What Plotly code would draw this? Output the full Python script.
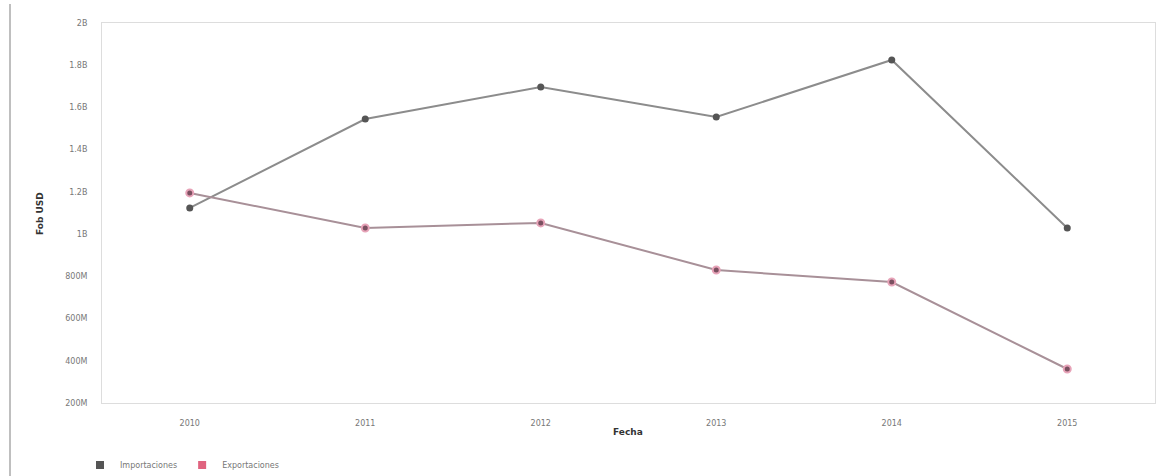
import plotly.graph_objects as go

# Annual trade values (USD, FOB)
years = ["2010", "2011", "2012", "2013", "2014", "2015"]
importaciones = [1.124e9, 1.545e9, 1.697e9, 1.555e9, 1.825e9, 1.029e9]
exportaciones = [1.195e9, 1.029e9, 1.053e9, 0.830e9, 0.773e9, 0.361e9]

tick_vals = [2e8, 4e8, 6e8, 8e8, 1e9, 1.2e9, 1.4e9, 1.6e9, 1.8e9, 2e9]
tick_text = ["200M", "400M", "600M", "800M", "1B", "1.2B", "1.4B", "1.6B", "1.8B", "2B"]

FONT = "DejaVu Sans"
L, R, T, B = 102, 1155, 23, 403
PW, PH = R - L, B - T

fig = go.Figure()

fig.add_trace(go.Scatter(
    x=years, y=importaciones, name="Importaciones", mode="lines+markers",
    line=dict(color="#8c8c8c", width=2),
    marker=dict(color="#555555", size=7, symbol="circle"),
    showlegend=False,
))
fig.add_trace(go.Scatter(
    x=years, y=exportaciones, name="Exportaciones", mode="lines+markers",
    line=dict(color="#a89098", width=2),
    marker=dict(color="#7a5060", size=7, symbol="circle",
                line=dict(color="#e7a3b8", width=2)),
    showlegend=False,
))

# Legend entries drawn as square swatches
fig.add_trace(go.Scatter(
    x=[None], y=[None], name="Importaciones", mode="markers",
    marker=dict(color="#555555", size=8, symbol="square"),
))
fig.add_trace(go.Scatter(
    x=[None], y=[None], name="Exportaciones", mode="markers",
    marker=dict(color="#e0637f", size=8, symbol="square"),
))

fig.update_layout(
    width=1174, height=476,
    margin=dict(l=L, r=1174 - R, t=T, b=476 - B, autoexpand=False),
    paper_bgcolor="white", plot_bgcolor="white",
    font=dict(family=FONT, size=8, color="#777777"),
    legend=dict(orientation="h", x=(80 - L) / PW, xanchor="left",
                y=(B - 465) / PH, yanchor="middle",
                font=dict(size=8, color="#777777"), itemwidth=30,
                tracegroupgap=0),
    xaxis=dict(
        type="category", range=[-0.5, 5.5], showgrid=False, zeroline=False,
        showline=True, linecolor="#dddddd", linewidth=1, mirror=True,
        ticks="", tickfont=dict(size=8, color="#777777"), ticklabelstandoff=12,
    ),
    yaxis=dict(
        range=[2e8, 2e9], showgrid=False, zeroline=False,
        showline=True, linecolor="#dddddd", linewidth=1, mirror=True,
        tickvals=tick_vals, ticktext=tick_text, ticks="",
        tickfont=dict(size=8, color="#777777"), ticklabelstandoff=12,
    ),
    annotations=[
        dict(text="<b>Fob USD</b>", xref="paper", yref="paper",
             x=(33 - L) / PW, y=(B - 214) / PH, textangle=-90,
             showarrow=False, font=dict(family=FONT, size=9, color="#333333")),
        dict(text="<b>Fecha</b>", xref="paper", yref="paper",
             x=(628 - L) / PW, y=(B - 439) / PH, showarrow=False,
             font=dict(family=FONT, size=9, color="#333333")),
    ],
    shapes=[
        dict(type="line", xref="paper", yref="paper",
             x0=(10 - L) / PW, x1=(10 - L) / PW,
             y0=(B - 4) / PH, y1=(B - 476) / PH,
             line=dict(color="#aaaaaa", width=1.5)),
    ],
)

fig.write_html("out.html")
